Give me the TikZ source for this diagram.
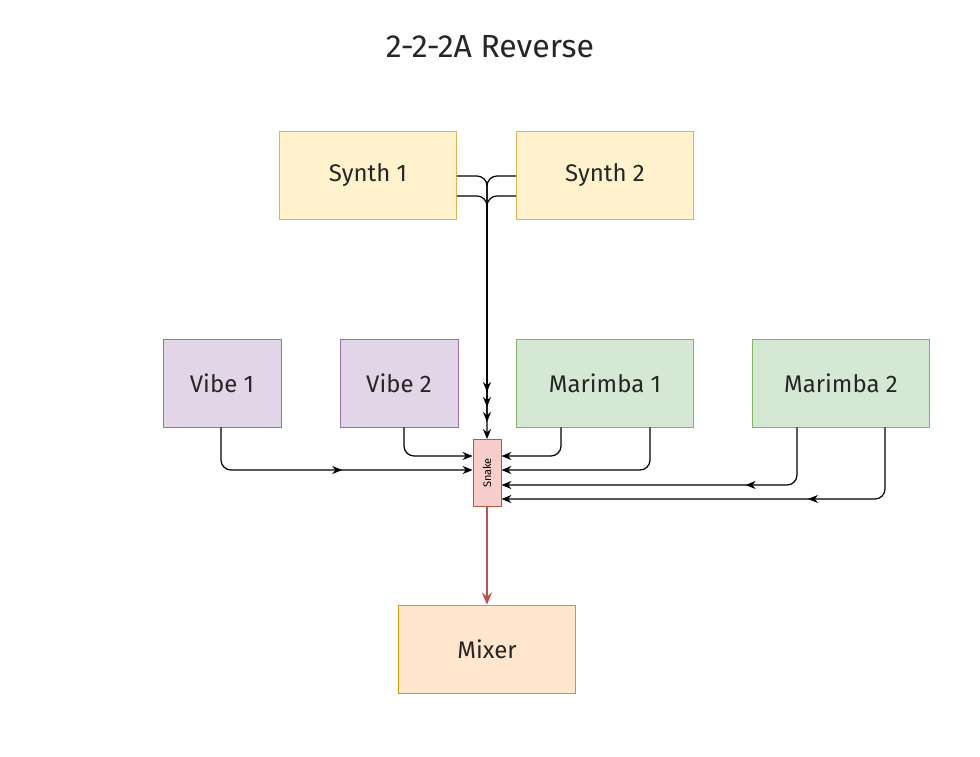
\documentclass[tikz,border=0pt]{standalone}
\usepackage{fontspec}
\setmainfont{Fira Sans}
\usetikzlibrary{arrows.meta,decorations.markings}
\definecolor{yf}{HTML}{FFF2CC}\definecolor{yd}{HTML}{D6B656}
\definecolor{pf}{HTML}{E1D5E7}\definecolor{pd}{HTML}{9673A6}
\definecolor{gf}{HTML}{D5E8D4}\definecolor{gd}{HTML}{82B366}
\definecolor{of}{HTML}{FFE6CC}\definecolor{od}{HTML}{D79B00}
\definecolor{rf}{HTML}{F8CECC}\definecolor{rd}{HTML}{B85450}
\begin{document}
\begin{tikzpicture}[x=1pt,y=-1pt,
 box/.style={draw,line width=0.8pt,minimum width=177pt,minimum height=88pt,inner sep=0pt,font=\fontsize{24}{28}\selectfont,text=black!85},
 sb/.style={box,minimum width=118pt},
 ar/.style={line width=1.2pt,-{Stealth[length=10pt,width=8pt]},rounded corners=10pt},
 mid/.style={postaction={decorate},decoration={markings,mark=at position #1 with {\arrow{Stealth[length=10pt,width=8pt]}}}}]
\useasboundingbox (0,0) rectangle (980,757);
\node[font=\fontsize{32}{38}\selectfont,text=black!85] (title) at (490,47) {2-2-2A Reverse};
\node[box,fill=yf,draw=yd] (s1) at (368,175) {Synth 1};
\node[box,fill=yf,draw=yd] (s2) at (605,175) {Synth 2};
\node[sb,fill=pf,draw=pd] (v1) at (222,383) {Vibe 1};
\node[sb,fill=pf,draw=pd] (v2) at (399,383) {Vibe 2};
\node[box,fill=gf,draw=gd] (m1) at (605,383) {Marimba 1};
\node[box,fill=gf,draw=gd] (m2) at (841,383) {Marimba 2};
\node[box,fill=of,draw=od] (mx) at (487,649) {Mixer};
\node[draw=rd,fill=rf,line width=0.8pt,minimum width=28pt,minimum height=67pt,inner sep=0pt] (sn) at (487,473) {};
\node[rotate=90,font=\fontsize{11}{13}\selectfont] (snl) at (sn.center) {Snake};
\coordinate (t1) at (487,392);\coordinate (t2) at (487,407);\coordinate (t3) at (487,422);
\draw[ar] (s1.east|-0,176) -- (487,176) -- (t1);
\draw[ar] (s2.west|-0,176) -- (487,176) -- (t2);
\draw[ar] (s1.east|-0,196) -- (487,196) -- (t3);
\draw[ar] (s2.west|-0,196) -- (487,196) -- (sn.north);
\draw[ar,mid=0.55] (v1.south-|221,0) -- (221,470) -- (sn.west|-0,470);
\draw[ar] (v2.south-|404,0) -- (404,456) -- (sn.west|-0,456);
\draw[ar] (m1.south-|561,0) -- (561,456) -- (sn.east|-0,456);
\draw[ar] (m1.south-|650,0) -- (650,470) -- (sn.east|-0,470);
\draw[ar,mid=0.3] (m2.south-|797,0) -- (797,485) -- (sn.east|-0,485);
\draw[ar,mid=0.32] (m2.south-|885,0) -- (885,499) -- (sn.east|-0,499);
\draw[line width=1.6pt,draw=rd,-{Stealth[length=12pt,width=10pt]}] (sn) -- (mx);
\end{tikzpicture}
\end{document}
